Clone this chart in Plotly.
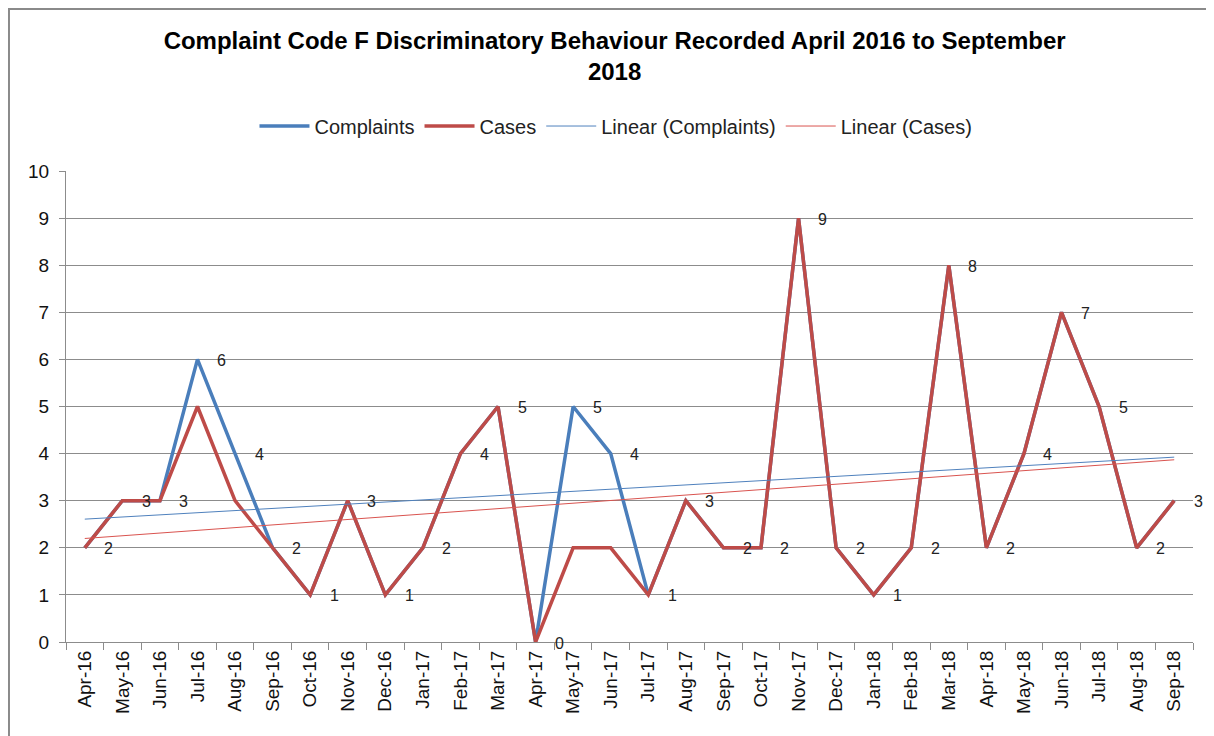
import numpy as np
import plotly.graph_objects as go

months = ["Apr-16", "May-16", "Jun-16", "Jul-16", "Aug-16", "Sep-16", "Oct-16", "Nov-16",
          "Dec-16", "Jan-17", "Feb-17", "Mar-17", "Apr-17", "May-17", "Jun-17", "Jul-17",
          "Aug-17", "Sep-17", "Oct-17", "Nov-17", "Dec-17", "Jan-18", "Feb-18", "Mar-18",
          "Apr-18", "May-18", "Jun-18", "Jul-18", "Aug-18", "Sep-18"]
complaints = [2, 3, 3, 6, 4, 2, 1, 3, 1, 2, 4, 5, 0, 5, 4, 1, 3, 2, 2, 9, 2, 1, 2, 8, 2, 4, 7, 5, 2, 3]
cases = [2, 3, 3, 5, 3, 2, 1, 3, 1, 2, 4, 5, 0, 2, 2, 1, 3, 2, 2, 9, 2, 1, 2, 8, 2, 4, 7, 5, 2, 3]
y_ticks = list(range(0, 11))

title = "Complaint Code F Discriminatory Behaviour Recorded April 2016 to September<br>2018"

BLUE = "#4A7EBB"
RED = "#BE4B48"
TBLUE = "#4F81BD"
TRED = "#D9534F"
GRID = "#8C8C8C"
FONT = "Liberation Sans"

idx = np.arange(len(months))
c_fit = np.polyval(np.polyfit(idx, complaints, 1), idx)
k_fit = np.polyval(np.polyfit(idx, cases, 1), idx)

fig = go.Figure()
fig.add_trace(go.Scatter(x=months, y=complaints, mode="lines", name="Complaints",
                         line=dict(color=BLUE, width=3.5)))
fig.add_trace(go.Scatter(x=months, y=cases, mode="lines", name="Cases",
                         line=dict(color=RED, width=3.5)))
fig.add_trace(go.Scatter(x=months, y=c_fit, mode="lines", name="Linear (Complaints)",
                         line=dict(color=TBLUE, width=1)))
fig.add_trace(go.Scatter(x=months, y=k_fit, mode="lines", name="Linear (Cases)",
                         line=dict(color=TRED, width=1)))

for m, v in zip(months, complaints):
    fig.add_annotation(x=m, y=v, text=str(v), showarrow=False, xanchor="center",
                       yanchor="middle", xshift=24, yshift=-1,
                       font=dict(family=FONT, size=16, color="#222222"))

fig.add_shape(type="rect", xref="paper", yref="paper", x0=-0.0506, x1=1.03, y0=-0.25, y1=1.3439,
              line=dict(color="#8A8A8A", width=2), fillcolor="rgba(0,0,0,0)", layer="below")

fig.update_layout(
    width=1206, height=728,
    margin=dict(l=58, r=21, t=163, b=94),
    paper_bgcolor="white", plot_bgcolor="white",
    title=dict(text=title, x=0.503, xanchor="center", y=0.9435, yanchor="top",
               font=dict(family=FONT, size=24, color="#000000", weight="bold")),
    font=dict(family=FONT, color="#222222"),
    legend=dict(orientation="h", x=0.488, xanchor="center", y=1.0955, yanchor="middle",
                font=dict(family=FONT, size=20, color="#222222"), itemwidth=50,
                bgcolor="rgba(0,0,0,0)"),
    showlegend=True,
)
fig.update_xaxes(type="category", range=[-0.5, len(months) - 0.5], tickangle=-90,
                 tickfont=dict(family=FONT, size=19, color="#111111"),
                 showline=True, linecolor=GRID, linewidth=1,
                 ticks="outside", tickson="boundaries", ticklen=7, tickcolor=GRID,
                 showgrid=False, zeroline=False)
fig.update_yaxes(range=[0, 10], tickvals=y_ticks,
                 tickfont=dict(family=FONT, size=19, color="#111111"),
                 showline=True, linecolor=GRID, linewidth=1,
                 ticks="outside", ticklen=6, tickcolor=GRID,
                 showgrid=True, gridcolor=GRID, gridwidth=1, zeroline=False,
                 ticklabelstandoff=6)

fig.write_html("out.html")
